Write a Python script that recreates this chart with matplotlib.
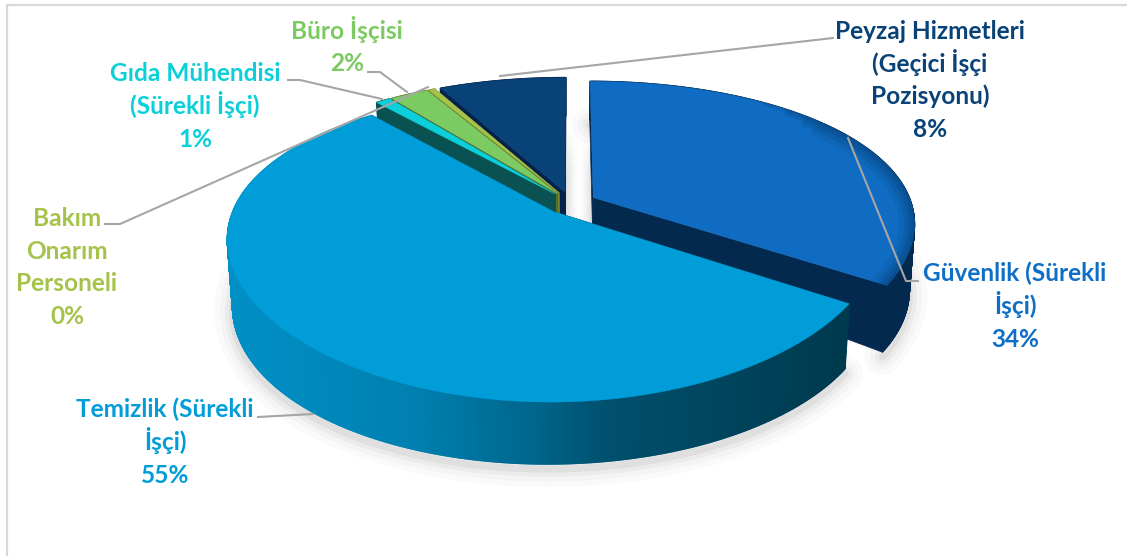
import numpy as np
import matplotlib
matplotlib.use("Agg")
import matplotlib.pyplot as plt
from matplotlib.collections import PolyCollection
from matplotlib.colors import LinearSegmentedColormap

plt.rcParams['font.family'] = ['Lato', 'DejaVu Sans']

# data, clockwise from 12 o'clock
categories = ["Güvenlik (Sürekli\nİşçi)", "Temizlik (Sürekli\nİşçi)", "Gıda Mühendisi\n(Sürekli İşçi)",
              "Büro İşçisi", "Bakım\nOnarım\nPersoneli", "Peyzaj Hizmetleri\n(Geçici İşçi\nPozisyonu)"]
values = [34.2, 54.6, 0.9, 2.3, 0.4, 7.6]

top_colors = ["#0F6CC2", "#009DD9", "#0BD0D9", "#7CCA62", "#A5C249", "#094277"]
face_colors = ["#04294F", "#00465C", "#0A5252", "#5C6B22", "#6E8230", "#04224A"]
text_colors = ["#0F6FC6", "#009DD9", "#0BD0D9", "#7CCA62", "#A5C249", "#094277"]

# where the label text goes, centre of the block in pixels
label_pos = [(1015, 306), (165, 442), (195, 106), (347, 47), (67, 267), (930, 80)]
leaders = [
    [(918, 281), (906, 281), (848, 138)],
    [(258, 417), (313, 414)],
    [(288, 80), (300, 80), (382, 99)],
    [(368, 72), (380, 72), (407, 92)],
    [(105, 224), (120, 224), (428, 87)],
    [(833, 38), (500, 76)],
]

# fake 3d view settings
cx, cy = 571, 203
rad_x, rad_y = 318, 144
persp_x = 0.17
persp_y = 0.22
depth = 47.5
explode = 0.08
draw_order = [5, 4, 3, 2, 0, 1]
line_step = 32.7


def project(u, v, low=False):
    u = np.asarray(u)
    v = np.asarray(v)
    x = cx + rad_x * u / (1 + persp_x * v)
    s = 1 / (1 + persp_y * v)
    y = cy - rad_y * v * s
    if low:
        x = cx + (x - cx) * 0.985
        y = y + depth * s * (1 + 0.3 * u ** 2)
    return x, y


def slice_arc(a0, a1):
    mid = np.radians((a0 + a1) / 2)
    off_u, off_v = explode * np.sin(mid), explode * np.cos(mid)
    th = np.radians(np.linspace(a0, a1, max(int(a1 - a0) * 4, 4)))
    return np.sin(th) + off_u, np.cos(th) + off_v, off_u, off_v


fig = plt.figure(figsize=(11.27, 5.56), dpi=100)
ax = fig.add_axes([0, 0, 1, 1])

# chart frame
ax.plot([6.5, 6.5, 1127], [556, 5, 5], color="#D9D9D9", lw=1.6)

total = sum(values)
edges = np.concatenate([[0], np.cumsum(values)]) / total * 360

# soft shadow under the pie
for i in [0, 1]:
    us, vs, _, _ = slice_arc(edges[i], edges[i + 1])
    if i == 1:
        us, vs = us[:int(len(us) * 0.75)], vs[:int(len(vs) * 0.75)]
    sx, sy = project(us, vs, low=True)
    for lw, a in [(26, 0.018), (18, 0.025), (11, 0.035), (5, 0.05)]:
        ax.plot(sx, sy + 5, color="black", alpha=a, lw=lw, solid_capstyle="round")

# shadow in the gap between Peyzaj and Güvenlik, fades in from above
gx = np.linspace(0, 1, 30)
gy = np.linspace(0, 1, 40)
gap = np.zeros((40, 30, 4))
gap[..., :3] = 0.5
gap[..., 3] = np.outer(np.minimum(gy * 2.2, 1), 0.25 * np.abs(2 * gx - 1) ** 1.5)
ax.imshow(gap, extent=(566, 592, 232, 125), origin="upper", aspect="auto", zorder=1)

ax.set_xlim(0, 1127)
ax.set_ylim(556, 0)
ax.axis("off")

temizlik_map = LinearSegmentedColormap.from_list(
    "temizlik", [(0, "#0090C6"), (0.3, "#0080B0"), (0.5, "#00668C"), (0.62, "#00506E"), (1, "#003A4E")])

for i in draw_order:
    a0, a1 = edges[i], edges[i + 1]
    us, vs, off_u, off_v = slice_arc(a0, a1)
    tx, ty = project(us, vs)
    bx, by = project(us, vs, low=True)
    ax0, ay0 = project(off_u, off_v)
    lx0, ly0 = project(off_u, off_v, low=True)

    # radial cut faces
    ax.fill([ax0, tx[0], bx[0], lx0], [ay0, ty[0], by[0], ly0], color=face_colors[i], lw=0.5, zorder=2)
    ax.fill([ax0, tx[-1], bx[-1], lx0], [ay0, ty[-1], by[-1], ly0], color=face_colors[i], lw=0.5, zorder=2)

    # rim as small quads so it can carry a gradient
    quads = []
    quad_colors = []
    for j in range(len(us) - 1):
        quads.append([(tx[j], ty[j]), (tx[j + 1], ty[j + 1]), (bx[j + 1], by[j + 1]), (bx[j], by[j])])
        if i == 1:
            quad_colors.append(temizlik_map((tx[j] - 228) / 612))
        else:
            quad_colors.append(face_colors[i])
    ax.add_collection(PolyCollection(quads, facecolors=quad_colors, edgecolors=quad_colors, lw=1.0, zorder=2))

    # top surface
    top = ax.fill(np.r_[ax0, tx], np.r_[ay0, ty], color=top_colors[i], lw=0.3, zorder=2)[0]

    # darker bevel along the right rim of Güvenlik, clipped to the top surface
    if i == 0:
        for lim, lw, al in [(0.7, 4, 0.12), (0.78, 9, 0.12), (0.85, 15, 0.1), (0.9, 22, 0.08)]:
            keep = us > lim
            rim = ax.plot(tx[keep], ty[keep], color="#03203F", lw=lw, alpha=al, zorder=2)[0]
            rim.set_clip_path(top)

for line in leaders:
    ax.plot([p[0] for p in line], [p[1] for p in line], color="#A6A6A6", lw=1.5, zorder=3)

for i in range(len(categories)):
    rows = categories[i].split("\n") + [f"{round(values[i])}%"]
    y0 = label_pos[i][1] - (len(rows) - 1) / 2 * line_step + 8
    for n in range(len(rows)):
        ax.text(label_pos[i][0], y0 + n * line_step, rows[n], ha="center", va="baseline",
                color=text_colors[i], fontsize=17.6, fontweight="bold", zorder=4)

fig.savefig("out.png", dpi=100)
